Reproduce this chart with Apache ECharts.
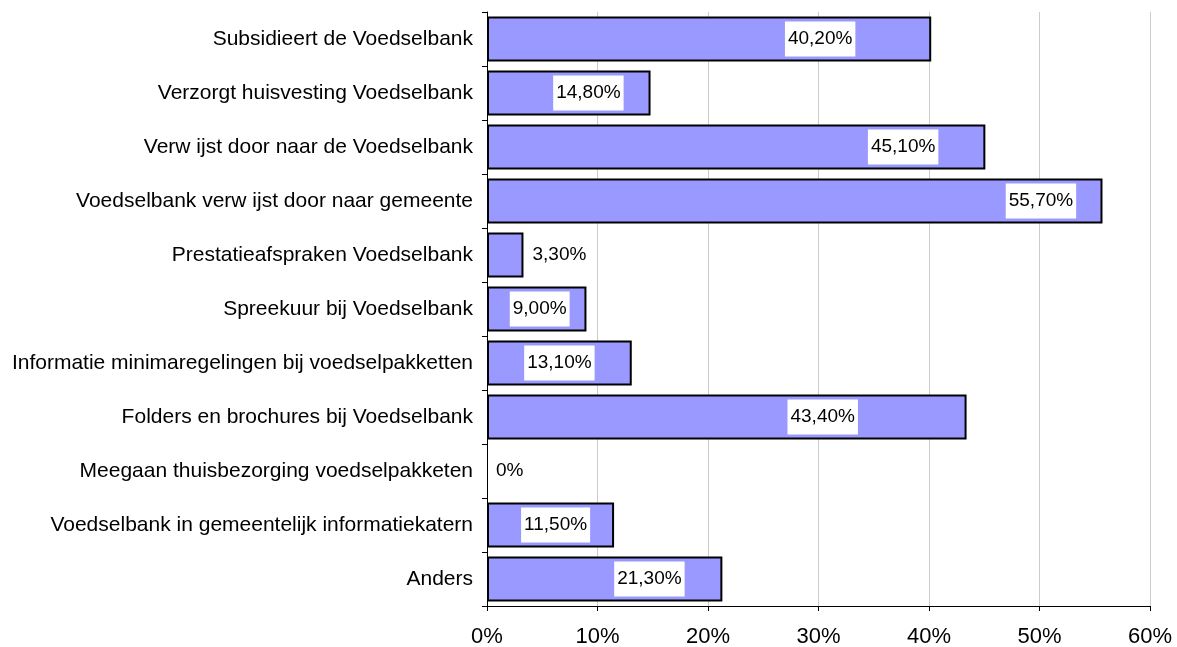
<!DOCTYPE html>
<html>
<head>
<meta charset="utf-8">
<script src="https://cdn.jsdelivr.net/npm/echarts@6/dist/echarts.min.js"></script>
<style>
html, body { margin: 0; padding: 0; background: #fff; }
#chart { width: 1177px; height: 647px; }
</style>
</head>
<body>
<div id="chart"></div>
<script>
var categories = [
	'Subsidieert de Voedselbank',
	'Verzorgt huisvesting Voedselbank',
	'Verw ijst door naar de Voedselbank',
	'Voedselbank verw ijst door naar gemeente',
	'Prestatieafspraken Voedselbank',
	'Spreekuur bij Voedselbank',
	'Informatie minimaregelingen bij voedselpakketten',
	'Folders en brochures bij Voedselbank',
	'Meegaan thuisbezorging voedselpakketen',
	'Voedselbank in gemeentelijk informatiekatern',
	'Anders'
];
var percentages = [40.2, 14.8, 45.1, 55.7, 3.3, 9.0, 13.1, 43.4, 0, 11.5, 21.3];
var xTicks = [0, 10, 20, 30, 40, 50, 60];

(function() {
	var myChart = echarts.init(document.getElementById('chart'));

	// where the label sits along each bar (fraction of bar length), null = outside right
	var labelAnchor = [0.75, 0.62, 0.835, 0.9, null, 0.53, 0.5, 0.7, null, 0.54, 0.69];

	function fmt(v) {
		return v === 0 ? '0%' : v.toFixed(2).replace('.', ',') + '%';
	}

	var barData = percentages.map(function(v, i) {
		var a = labelAnchor[i];
		var lbl = a === null
			? { position: 'right', distance: 6, backgroundColor: 'transparent' }
			: { position: [(a * 100) + '%', '50%'], align: 'center', verticalAlign: 'middle' };
		var item = { value: v, label: lbl };
		if (v === 0) {
			item.itemStyle = { borderWidth: 0 };
		}
		return item;
	});

	var option = {
		animation : false,
		grid : {
			left : 487,
			right : 27,
			top : 12,
			bottom : 41,
			outerBoundsMode : 'none'
		},
		xAxis : {
			type : 'value',
			min : xTicks[0],
			max : xTicks[xTicks.length - 1],
			interval : 10,
			axisLine : { show : true, lineStyle : { color : '#000', width : 1 } },
			axisTick : { show : true, length : 5, lineStyle : { color : '#000' } },
			splitLine : { show : true, lineStyle : { color : '#cccccc', width : 1 } },
			axisLabel : {
				formatter : '{value}%',
				fontFamily : 'Liberation Sans, Arial, sans-serif',
				fontSize : 22,
				color : '#000',
				margin : 20
			}
		},
		yAxis : {
			type : 'category',
			inverse : true,
			data : categories,
			axisLine : { show : true, lineStyle : { color : '#000', width : 1 } },
			axisTick : { show : true, length : 5, lineStyle : { color : '#000' } },
			axisLabel : {
				fontFamily : 'Liberation Sans, Arial, sans-serif',
				fontSize : 21,
				color : '#000',
				margin : 14
			}
		},
		series : [ {
			type : 'bar',
			data : barData,
			barCategoryGap : '17%',
			itemStyle : {
				color : '#9999ff',
				borderColor : '#000',
				borderWidth : 2
			},
			label : {
				show : true,
				formatter : function(p) { return fmt(p.value); },
				fontFamily : 'Liberation Sans, Arial, sans-serif',
				fontSize : 19,
				color : '#000',
				backgroundColor : '#fff',
				padding : [8, 3, 8, 3]
			}
		} ]
	};
	myChart.setOption(option);
})();
</script>
</body>
</html>
